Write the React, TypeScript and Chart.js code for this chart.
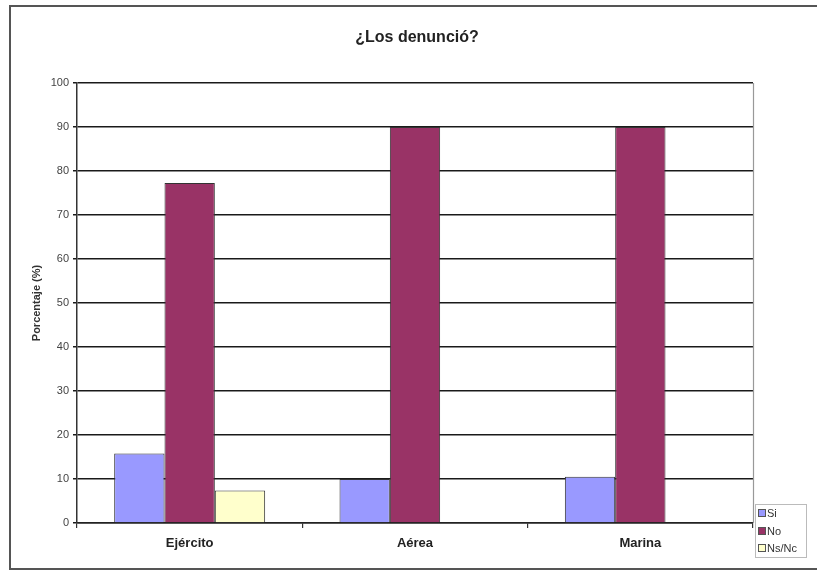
import React, { useEffect, useRef } from "react";
import { Chart, registerables } from "chart.js";

Chart.register(...registerables);

const categories = ["Ejército", "Aérea", "Marina"];
const seriesNames = ["Si", "No", "Ns/Nc"];
const siValues = [15.8, 10, 10.5];
const noValues = [77.3, 90, 90];
const nsncValues = [7.4, null, null];
const yTicksMax = 100;
const yStep = 10;
const chartTitle = "¿Los denunció?";
const yTitle = "Porcentaje (%)";

const colors = ["#9999FF", "#993366", "#FFFFCC"];
const FONT = "'Liberation Sans', Arial, sans-serif";

const decorPlugin = {
  id: "decor",
  beforeDraw(chart: any) {
    const ctx = chart.ctx;
    ctx.save();
    ctx.fillStyle = "#ffffff";
    ctx.fillRect(0, 0, chart.width, chart.height);
    ctx.restore();
  },
  afterDraw(chart: any) {
    const ctx = chart.ctx;
    const area = chart.chartArea;
    ctx.save();
    // outer frame
    ctx.strokeStyle = "#555";
    ctx.lineWidth = 2;
    ctx.beginPath();
    ctx.moveTo(chart.width + 2, 6);
    ctx.lineTo(10, 6);
    ctx.lineTo(10, 569);
    ctx.lineTo(chart.width + 2, 569);
    ctx.stroke();
    // plot right border
    ctx.strokeStyle = "#999";
    ctx.lineWidth = 1.2;
    ctx.beginPath();
    ctx.moveTo(area.right + 0.5, area.top);
    ctx.lineTo(area.right + 0.5, area.bottom);
    ctx.stroke();
    // title
    ctx.fillStyle = "#222";
    ctx.font = `bold 16px ${FONT}`;
    ctx.textAlign = "center";
    ctx.textBaseline = "middle";
    ctx.fillText(chartTitle, (area.left + area.right) / 2 + 2, 38);
    // legend
    const lx = 755;
    const ly = 504;
    ctx.strokeStyle = "#bbb";
    ctx.lineWidth = 1;
    ctx.strokeRect(lx + 0.5, ly + 0.5, 51, 53);
    const rows = [513, 531, 548];
    ctx.font = `11px ${FONT}`;
    ctx.textAlign = "left";
    ctx.textBaseline = "middle";
    chart.data.datasets.forEach((ds: any, i: number) => {
      const y = rows[i];
      ctx.fillStyle = ds.backgroundColor;
      ctx.fillRect(758, y - 4, 8, 8);
      ctx.strokeStyle = "#555";
      ctx.strokeRect(758.5, y - 3.5, 7, 7);
      ctx.fillStyle = "#333";
      ctx.fillText(ds.label, 767, y + 0.5);
    });
    ctx.restore();
  },
};

export default function App() {
  const ref = useRef<HTMLCanvasElement>(null);
  useEffect(() => {
    if (!ref.current) return;
    const data = [siValues, noValues, nsncValues];
    const chart = new Chart(ref.current, {
      type: "bar",
      data: {
        labels: categories,
        datasets: seriesNames.map((name, i) => ({
          label: name,
          data: data[i] as any,
          backgroundColor: colors[i],
          borderColor: "#333",
          borderWidth: 1,
          categoryPercentage: 0.67,
          barPercentage: 1.0,
        })),
      },
      options: {
        animation: false,
        responsive: false,
        maintainAspectRatio: false,
        layout: { padding: { left: 14, right: 64, top: 83, bottom: 17 } },
        plugins: {
          legend: { display: false },
          title: { display: false },
          tooltip: { enabled: false },
        },
        scales: {
          x: {
            grid: {
              offset: true,
              drawOnChartArea: false,
              drawTicks: true,
              tickLength: 5,
              color: "#333",
              lineWidth: 1.2,
            },
            border: { display: true, color: "#222", width: 1.5 },
            ticks: {
              font: { family: FONT, size: 13, weight: "bold" },
              color: "#222",
              padding: 8,
            },
            afterFit: (s: any) => {
              s.height = 30;
            },
          },
          y: {
            min: 0,
            max: yTicksMax,
            ticks: {
              stepSize: yStep,
              font: { family: FONT, size: 11 },
              color: "#444",
              padding: 4,
            },
            grid: {
              color: "#1a1a1a",
              lineWidth: 1.5,
              tickLength: 4,
              drawTicks: true,
            },
            border: { display: true, color: "#333", width: 1.5 },
            title: {
              display: true,
              text: yTitle,
              font: { family: FONT, size: 11, weight: "bold" },
              color: "#333",
              padding: { top: 16, bottom: 0 },
            },
            afterFit: (s: any) => {
              s.width = 63;
            },
          },
        },
      },
      plugins: [decorPlugin],
    });
    return () => chart.destroy();
  }, []);
  return (
    <div style={{ position: "absolute", left: 0, top: 0, width: 817, height: 570 }}>
      <canvas ref={ref} width={817} height={570} />
    </div>
  );
}
